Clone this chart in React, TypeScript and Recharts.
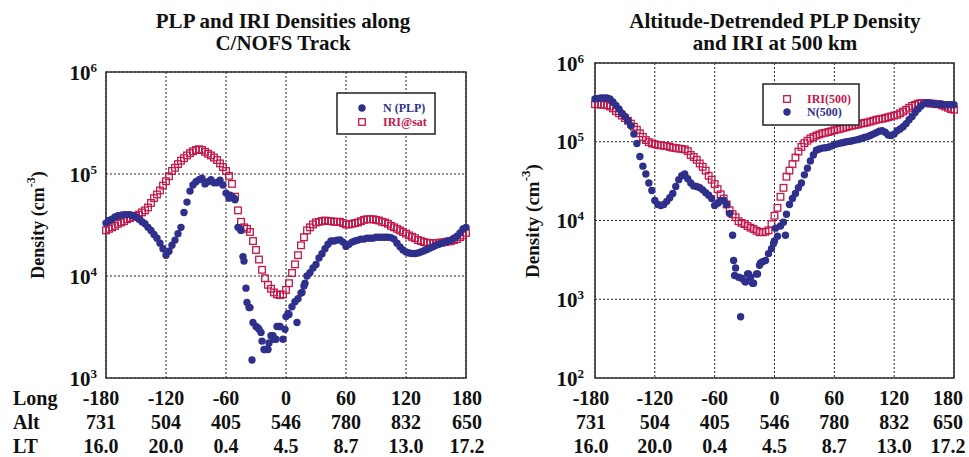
import React from 'react';
import { ScatterChart, Scatter, XAxis, YAxis, CartesianGrid, ReferenceArea } from 'recharts';

// ---- shared axis content ----
const LONGITUDE = [
  -180, -177, -174, -171, -168, -165, -162, -159, -156, -153,
  -150, -147, -144, -141, -138, -135, -132, -129, -126, -123,
  -120, -117, -114, -111, -108, -105, -102, -99, -96, -93,
  -90, -87, -84, -81, -78, -75, -72, -69, -66, -63,
  -60, -57, -54, -51, -48, -45, -42, -39, -36, -33,
  -30, -27, -24, -21, -18, -15, -12, -9, -6, -3,
  0, 3, 6, 9, 12, 15, 18, 21, 24, 27,
  30, 33, 36, 39, 42, 45, 48, 51, 54, 57,
  60, 63, 66, 69, 72, 75, 78, 81, 84, 87,
  90, 93, 96, 99, 102, 105, 108, 111, 114, 117,
  120, 123, 126, 129, 132, 135, 138, 141, 144, 147,
  150, 153, 156, 159, 162, 165, 168, 171, 174, 177,
  180,
];
const LONG_TICKS = [-180, -120, -60, 0, 60, 120, 180];
const ALT_LABELS = ['731', '504', '405', '546', '780', '832', '650'];
const LT_LABELS = ['16.0', '20.0', '0.4', '4.5', '8.7', '13.0', '17.2'];
const LEFT_Y_TICKS = [1e3, 1e4, 1e5, 1e6];
const RIGHT_Y_TICKS = [1e2, 1e3, 1e4, 1e5, 1e6];

// ---- left panel: PLP and IRI densities along C/NOFS track (cm^-3) ----
const N_PLP = [
  3.3e4, 3.5e4, 3.6e4, 3.8e4, 3.9e4, 3.95e4, 4.0e4, 4.0e4, 4.0e4, 3.9e4,
  3.8e4, 3.6e4, 3.4e4, 3.25e4, 3.0e4, 2.8e4, 2.55e4, 2.35e4, 2.1e4, 1.85e4,
  1.6e4, 1.75e4, 2.0e4, 2.25e4, 2.6e4, 3.0e4, 4.2e4, 5.3e4, 6.8e4, 7.8e4,
  8.4e4, 8.8e4, 9.1e4, 8.0e4, 8.4e4, 8.8e4, 8.2e4, 8.2e4, 8.7e4, 7.8e4,
  6.5e4, 5.8e4, 6.0e4, 5.6e4, 3.0e4, 2.8e4, 1.4e4, 5.5e3, 4.9e3, 3.5e3,
  3.2e3, 3.0e3, 2.3e3, 1.9e3, 1.9e3, 2.6e3, 2.4e3, 3.2e3, 3.2e3, 2.4e3,
  4.0e3, 4.2e3, 5.0e3, 5.6e3, 6.0e3, 6.8e3, 8.0e3, 1.0e4, 1.08e4, 1.2e4,
  1.3e4, 1.5e4, 1.65e4, 1.85e4, 2.05e4, 2.2e4, 2.2e4, 2.25e4, 2.26e4, 2.15e4,
  1.95e4, 2.05e4, 2.15e4, 2.2e4, 2.25e4, 2.3e4, 2.3e4, 2.35e4, 2.35e4, 2.35e4,
  2.4e4, 2.4e4, 2.4e4, 2.4e4, 2.4e4, 2.38e4, 2.3e4, 2.1e4, 1.93e4, 1.8e4,
  1.72e4, 1.68e4, 1.66e4, 1.66e4, 1.68e4, 1.72e4, 1.77e4, 1.82e4, 1.88e4, 1.93e4,
  2.0e4, 2.05e4, 2.1e4, 2.15e4, 2.2e4, 2.25e4, 2.35e4, 2.45e4, 2.65e4, 2.9e4,
  3.0e4,
];
const N_PLP_EXTRA = [
  [-56, 6.2e4], [-52, 5.8e4], [-46, 2.9e4], [-43, 1.55e4], [-40, 7.6e3], [-37, 4.9e3],
  [-34, 1.5e3], [-28, 3.1e3], [-25, 2.8e3], [-22, 1.9e3], [-17, 2.2e3], [-13, 2.6e3],
  [-10, 2.4e3], [-7, 3.2e3], [-1, 3.0e3], [2, 4.3e3], [11, 3.5e3], [16, 6.9e3], [19, 8.5e3],
];
const IRI_SAT = [
  2.8e4, 2.9e4, 3.0e4, 3.1e4, 3.25e4, 3.35e4, 3.45e4, 3.6e4, 3.7e4, 3.8e4,
  3.9e4, 4.0e4, 4.2e4, 4.4e4, 4.7e4, 5.2e4, 5.8e4, 6.3e4, 6.9e4, 7.7e4,
  8.5e4, 9.5e4, 1.07e5, 1.15e5, 1.25e5, 1.35e5, 1.43e5, 1.52e5, 1.6e5, 1.67e5,
  1.72e5, 1.75e5, 1.72e5, 1.65e5, 1.58e5, 1.52e5, 1.45e5, 1.37e5, 1.27e5, 1.17e5,
  1.07e5, 9.6e4, 8.0e4, 6.0e4, 4.4e4, 3.4e4, 3.0e4, 2.9e4, 2.7e4, 2.2e4,
  1.8e4, 1.45e4, 1.15e4, 9.5e3, 8.2e3, 7.5e3, 6.9e3, 6.6e3, 6.5e3, 6.6e3,
  7.3e3, 8.5e3, 1.07e4, 1.3e4, 1.6e4, 2.0e4, 2.4e4, 2.8e4, 3.0e4, 3.2e4,
  3.35e4, 3.4e4, 3.45e4, 3.5e4, 3.45e4, 3.45e4, 3.4e4, 3.4e4, 3.4e4, 3.3e4,
  3.2e4, 3.2e4, 3.25e4, 3.3e4, 3.35e4, 3.45e4, 3.55e4, 3.6e4, 3.6e4, 3.6e4,
  3.55e4, 3.5e4, 3.4e4, 3.35e4, 3.25e4, 3.1e4, 3.0e4, 2.9e4, 2.8e4, 2.7e4,
  2.6e4, 2.5e4, 2.42e4, 2.35e4, 2.25e4, 2.2e4, 2.15e4, 2.12e4, 2.1e4, 2.1e4,
  2.1e4, 2.12e4, 2.13e4, 2.15e4, 2.18e4, 2.2e4, 2.25e4, 2.3e4, 2.4e4, 2.5e4,
  2.65e4,
];

// ---- right panel: altitude-detrended PLP density and IRI at 500 km (cm^-3) ----
const N_500 = [
  3.5e5, 3.55e5, 3.6e5, 3.6e5, 3.6e5, 3.5e5, 3.2e5, 2.9e5, 2.6e5, 2.3e5,
  2.1e5, 1.85e5, 1.6e5, 1.25e5, 9.5e4, 6.5e4, 4.9e4, 3.9e4, 3.0e4, 2.4e4,
  1.8e4, 1.6e4, 1.55e4, 1.6e4, 1.75e4, 1.95e4, 2.2e4, 2.7e4, 3.3e4, 3.7e4,
  3.9e4, 3.4e4, 3.0e4, 2.75e4, 2.7e4, 2.6e4, 2.45e4, 2.25e4, 2.1e4, 1.9e4,
  1.55e4, 1.65e4, 1.8e4, 1.8e4, 1.6e4, 1.23e4, 6.5e3, 2.5e3, 1.9e3, 1.85e3,
  1.7e3, 2.1e3, 1.9e3, 1.6e3, 2.1e3, 2.7e3, 3.0e3, 3.1e3, 3.8e3, 4.4e3,
  5.5e3, 6.3e3, 8.5e3, 9.5e3, 1.2e4, 1.6e4, 1.9e4, 2.2e4, 2.6e4, 3.0e4,
  3.8e4, 4.6e4, 5.7e4, 6.8e4, 7.8e4, 8.1e4, 8.3e4, 8.4e4, 8.5e4, 8.8e4,
  9.2e4, 9.4e4, 9.6e4, 9.8e4, 1.0e5, 1.01e5, 1.03e5, 1.05e5, 1.07e5, 1.1e5,
  1.13e5, 1.16e5, 1.2e5, 1.25e5, 1.3e5, 1.36e5, 1.38e5, 1.32e5, 1.22e5, 1.2e5,
  1.25e5, 1.38e5, 1.45e5, 1.55e5, 1.7e5, 1.9e5, 2.1e5, 2.35e5, 2.6e5, 2.85e5,
  3.05e5, 3.1e5, 3.1e5, 3.05e5, 3.0e5, 3.0e5, 3.0e5, 2.95e5, 2.95e5, 2.95e5,
  2.95e5,
];
const N_500_EXTRA = [
  [-56, 1.7e4], [-51, 1.8e4], [-41, 3.1e3], [-40, 2.0e3], [-34, 6.0e2], [-29, 1.65e3],
  [-26, 2.1e3], [-22, 1.6e3], [-17, 2.1e3], [-14, 2.9e3], [-1, 5.1e3], [1, 8.0e3], [11, 6.5e3],
];
const IRI_500 = [
  3.0e5, 3.0e5, 2.95e5, 2.95e5, 2.9e5, 2.8e5, 2.65e5, 2.45e5, 2.3e5, 2.15e5,
  2.0e5, 1.85e5, 1.7e5, 1.55e5, 1.42e5, 1.28e5, 1.15e5, 1.05e5, 9.9e4, 9.5e4,
  9.3e4, 9.1e4, 9.0e4, 8.9e4, 8.8e4, 8.6e4, 8.4e4, 8.3e4, 8.2e4, 8.1e4,
  8.0e4, 7.6e4, 6.8e4, 6.4e4, 5.9e4, 5.3e4, 4.8e4, 4.3e4, 3.7e4, 3.3e4,
  2.9e4, 2.5e4, 2.15e4, 1.9e4, 1.6e4, 1.35e4, 1.2e4, 1.1e4, 9.8e3, 9.3e3,
  9.0e3, 8.5e3, 8.1e3, 7.8e3, 7.4e3, 7.1e3, 7.1e3, 7.2e3, 7.5e3, 9.0e3,
  1.15e4, 1.45e4, 2.0e4, 2.6e4, 3.6e4, 4.3e4, 5.2e4, 6.3e4, 7.5e4, 8.6e4,
  9.6e4, 1.03e5, 1.1e5, 1.15e5, 1.2e5, 1.24e5, 1.28e5, 1.3e5, 1.33e5, 1.36e5,
  1.4e5, 1.43e5, 1.46e5, 1.5e5, 1.53e5, 1.57e5, 1.6e5, 1.63e5, 1.66e5, 1.7e5,
  1.73e5, 1.76e5, 1.8e5, 1.85e5, 1.9e5, 1.93e5, 1.96e5, 2.0e5, 2.05e5, 2.1e5,
  2.15e5, 2.2e5, 2.3e5, 2.42e5, 2.55e5, 2.7e5, 2.85e5, 2.95e5, 3.05e5, 3.1e5,
  3.1e5, 3.1e5, 3.05e5, 3.05e5, 3.0e5, 3.0e5, 2.9e5, 2.8e5, 2.7e5, 2.6e5,
  2.55e5,
];

// ---- styling ----
const BLUE = '#2f2f8c';
const RED = '#c2184b';
const FONT = "'Liberation Serif', 'Times New Roman', serif";
const INK = '#111';

const toPoints = (vals: number[]) => LONGITUDE.map((x, i) => ({ x, y: vals[i] }));
const pairsToPoints = (pairs: number[][]) => pairs.map(([x, y]) => ({ x, y }));

const leftBlue = [...toPoints(N_PLP), ...pairsToPoints(N_PLP_EXTRA)];
const leftRed = toPoints(IRI_SAT);
const rightBlue = [...toPoints(N_500), ...pairsToPoints(N_500_EXTRA)];
const rightRed = toPoints(IRI_500);

const Dot = (p: any) =>
  p.cx == null ? null : <circle cx={p.cx} cy={p.cy} r={3.7} fill={BLUE} />;
const Square = (p: any) =>
  p.cx == null ? null : (
    <rect x={p.cx - 3.3} y={p.cy - 3.3} width={6.6} height={6.6} fill="none" stroke={RED} strokeWidth={1.3} />
  );

const YTick = (props: any) => {
  const { x, y, payload } = props;
  const exp = Math.round(Math.log10(payload.value));
  return (
    <text x={x} y={y} dy={7.5} textAnchor="end" fontFamily={FONT} fontWeight="bold" fontSize={21} fill={INK}>
      <tspan>10</tspan>
      <tspan dy={-8} fontSize={13}>{exp}</tspan>
    </text>
  );
};

const XTick = (props: any) => {
  const { x, y, payload, firstShift = 0, lastShift = 0 } = props;
  const i = LONG_TICKS.indexOf(payload.value);
  const shift = i === 0 ? firstShift : i === LONG_TICKS.length - 1 ? lastShift : 0;
  const common = { x: x + shift, textAnchor: 'middle' as const, fontFamily: FONT, fontWeight: 'bold', fontSize: 20, fill: INK };
  return (
    <g>
      <text {...common} y={y + 27}>{String(payload.value)}</text>
      <text {...common} y={y + 51}>{ALT_LABELS[i]}</text>
      <text {...common} y={y + 75}>{LT_LABELS[i]}</text>
    </g>
  );
};

type PanelProps = {
  width: number;
  marginTop: number;
  marginRight: number;
  yWidth: number;
  yMargin: number;
  domain: [number, number];
  yTicks: number[];
  red: { x: number; y: number }[];
  blue: { x: number; y: number }[];
  firstShift: number;
  lastShift: number;
};

const Panel = ({ width, marginTop, marginRight, yWidth, yMargin, domain, yTicks, red, blue, firstShift, lastShift }: PanelProps) => (
  <ScatterChart width={width} height={457} margin={{ top: marginTop, right: marginRight, bottom: 9, left: 0 }}>
    <CartesianGrid stroke="#222" strokeDasharray="2 2" strokeWidth={1} />
    <XAxis
      type="number"
      dataKey="x"
      domain={[-180, 180]}
      ticks={LONG_TICKS}
      axisLine={false}
      tickLine={false}
      tickSize={0}
      tickMargin={0}
      height={70}
      tick={<XTick firstShift={firstShift} lastShift={lastShift} />}
      interval={0}
    />
    <YAxis
      type="number"
      dataKey="y"
      scale="log"
      domain={domain}
      ticks={yTicks}
      allowDataOverflow
      axisLine={false}
      tickLine={false}
      tickSize={0}
      tickMargin={yMargin}
      width={yWidth}
      tick={<YTick />}
      interval={0}
    />
    <Scatter data={red} shape={Square} isAnimationActive={false} />
    <Scatter data={blue} shape={Dot} isAnimationActive={false} />
    <ReferenceArea x1={-180} x2={180} y1={domain[0]} y2={domain[1]} fill="none" fillOpacity={0} stroke="#333" strokeWidth={1.6} />
  </ScatterChart>
);

const T = (p: any) => <text fontFamily={FONT} fontWeight="bold" fill={INK} {...p} />;

export default function App() {
  return (
    <div style={{ position: 'absolute', left: 0, top: 0, width: 969, height: 457, background: '#fff', overflow: 'hidden' }}>
      <div style={{ position: 'absolute', left: 0, top: 0 }}>
        <Panel
          width={500}
          marginTop={72}
          marginRight={34}
          yWidth={106}
          yMargin={9}
          domain={[1e3, 1e6]}
          yTicks={LEFT_Y_TICKS}
          red={leftRed}
          blue={leftBlue}
          firstShift={-5}
          lastShift={1}
        />
      </div>
      <div style={{ position: 'absolute', left: 480, top: 0 }}>
        <Panel
          width={489}
          marginTop={63}
          marginRight={15}
          yWidth={115}
          yMargin={11}
          domain={[1e2, 1e6]}
          yTicks={RIGHT_Y_TICKS}
          red={rightRed}
          blue={rightBlue}
          firstShift={-4}
          lastShift={-6}
        />
      </div>
      <svg width={969} height={457} style={{ position: 'absolute', left: 0, top: 0, pointerEvents: 'none' }}>
        {/* titles */}
        <T x={283} y={28} fontSize={21} textAnchor="middle">PLP and IRI Densities along</T>
        <T x={283} y={50} fontSize={21} textAnchor="middle">C/NOFS Track</T>
        <T x={775} y={28} fontSize={21} textAnchor="middle">Altitude-Detrended PLP Density</T>
        <T x={775} y={50} fontSize={21} textAnchor="middle">and IRI at 500 km</T>

        {/* y-axis titles */}
        <T x={38} y={225} fontSize={18} textAnchor="middle" dominantBaseline="central" transform="rotate(-90 38 225)">
          Density (cm<tspan dy={-7} fontSize={12}>-3</tspan><tspan dy={7}>)</tspan>
        </T>
        <T x={532} y={221} fontSize={19} textAnchor="middle" dominantBaseline="central" transform="rotate(-90 532 221)">
          Density (cm<tspan dy={-7} fontSize={13}>-3</tspan><tspan dy={7}>)</tspan>
        </T>

        {/* row labels */}
        <T x={13} y={405} fontSize={20}>Long</T>
        <T x={13} y={429} fontSize={20}>Alt</T>
        <T x={13} y={453} fontSize={20}>LT</T>

        {/* left legend */}
        <rect x={337} y={93} width={98} height={41} fill="#fff" stroke="#222" strokeWidth={1.5} />
        <circle cx={362} cy={108} r={3.7} fill={BLUE} />
        <T x={383} y={112} fontSize={12} fill={BLUE}>N (PLP)</T>
        <rect x={358.7} y={118.7} width={6.6} height={6.6} fill="none" stroke={RED} strokeWidth={1.3} />
        <T x={383} y={126} fontSize={12} fill={RED}>IRI@sat</T>

        {/* right legend */}
        <rect x={763} y={84} width={96} height={41} fill="#fff" stroke="#222" strokeWidth={1.5} />
        <rect x={783.7} y={95.7} width={6.6} height={6.6} fill="none" stroke={RED} strokeWidth={1.3} />
        <T x={807} y={103} fontSize={12} fill={RED}>IRI(500)</T>
        <circle cx={787} cy={112} r={3.7} fill={BLUE} />
        <T x={807} y={116} fontSize={12} fill={BLUE}>N(500)</T>
      </svg>
    </div>
  );
}
